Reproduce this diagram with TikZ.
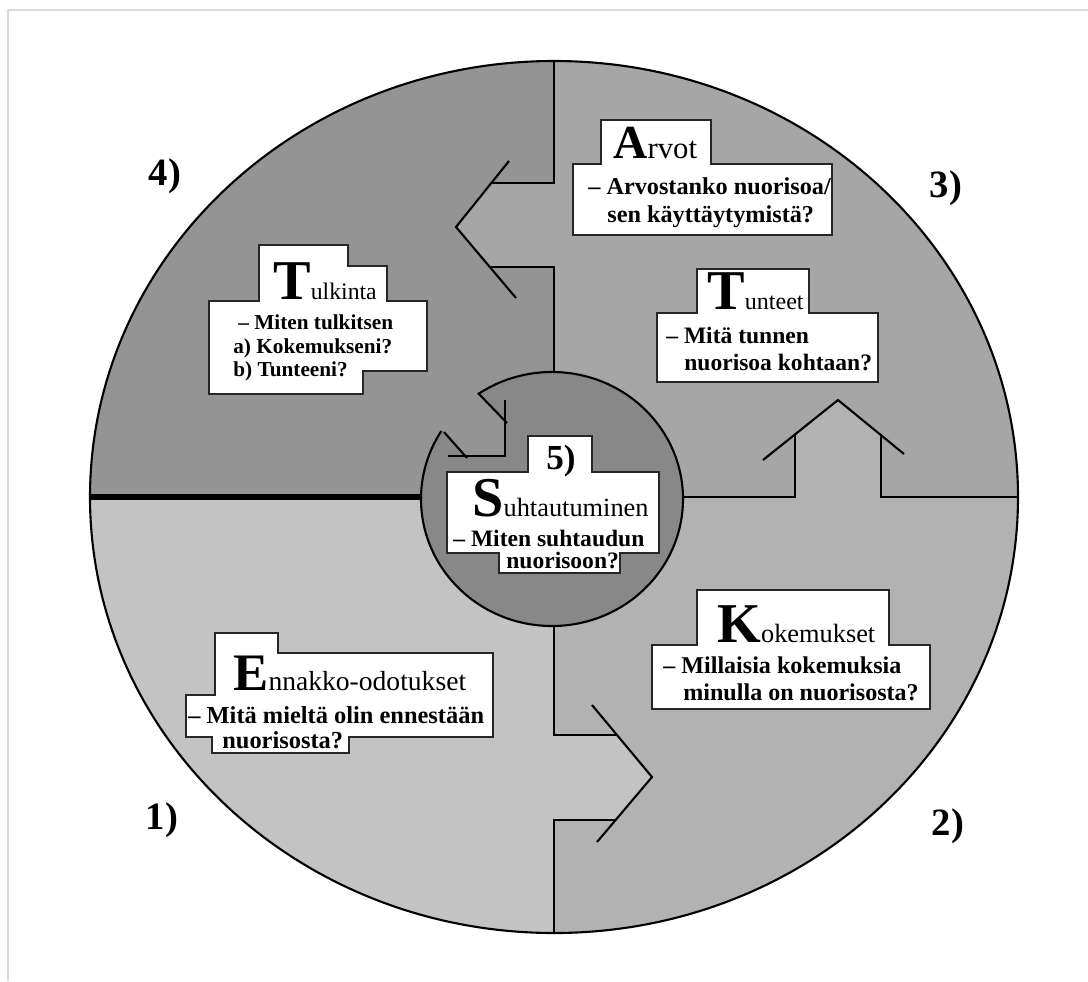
\documentclass[tikz,border=0pt]{standalone}
\usepackage{fontspec}
\setmainfont{Liberation Serif}
\definecolor{qfourgray}{HTML}{949494}
\definecolor{qthreegray}{HTML}{A6A6A6}
\definecolor{qtwogray}{HTML}{B2B2B2}
\definecolor{qonegray}{HTML}{C3C3C3}
\definecolor{hubgray}{HTML}{888888}
\newcommand{\initial}[2][32]{{\fontsize{#1}{#1}\selectfont\bfseries #2}}
\tikzset{
  seam/.style={line width=1.2pt},
  box/.style={draw=black!85, line width=0.8pt, fill=white},
  body/.style={anchor=base west, inner sep=0pt, font=\fontsize{13.4}{16}\selectfont\bfseries},
  ttl/.style={anchor=base west, inner sep=0pt, font=\fontsize{15}{18}\selectfont},
  num/.style={font=\fontsize{22}{22}\selectfont\bfseries}
}
\begin{document}
\begin{tikzpicture}[x=0.02cm, y=-0.02cm]
    \useasboundingbox (0,0) rectangle (1088,981);
    \draw[gray!30, line width=0.9pt] (8,981) -- (8,10) -- (1088,10);
    % quarters
    \begin{scope}
    \clip (554,497) ellipse [x radius=464, y radius=436];
    \fill[qfourgray] (80,40) rectangle (554,497);
    \fill[qthreegray] (554,40) rectangle (1030,497);
    \fill[qonegray] (80,497) rectangle (554,950);
    \fill[qtwogray] (554,497) rectangle (1030,950);
    \fill[qthreegray] (554,183) -- (491,183) -- (456,227) -- (490,267) -- (554,267) -- cycle;
    \fill[qtwogray] (795,497) -- (795,434) -- (838,400) -- (881,435) -- (881,497) -- cycle;
    \fill[qonegray] (554,735) -- (617,735) -- (652,777) -- (616,820) -- (554,820) -- cycle;
    \end{scope}
    \draw[seam] (554,497) ellipse [x radius=464, y radius=436];
    \draw[seam] (554,61) -- (554,183) -- (491,183);
    \draw[seam] (509,161) -- (456,227) -- (516,298);
    \draw[seam] (490,267) -- (554,267) -- (554,375);
    \draw[seam] (680,497) -- (795,497) -- (795,434);
    \draw[seam] (763,460) -- (838,400) -- (904,454);
    \draw[seam] (881,434) -- (881,497) -- (1018,497);
    \draw[seam] (554,622) -- (554,735) -- (617,735);
    \draw[seam] (592,705) -- (652,777) -- (597,842);
    \draw[seam] (616,820) -- (554,820) -- (554,933);
    \draw[line width=3.4pt] (90,497) -- (424,497);
    % hub
    \filldraw[fill=hubgray, seam] (552,499) ellipse [x radius=131, y radius=127];
    \fill[qfourgray] (478,393) -- (505,421) -- (505,456) -- (465,456) -- (444,432) -- (420,420) -- (440,380) -- cycle;
    \draw[seam] (478,393) -- (507,423);
    \draw[seam] (505,400) -- (505,456) -- (448,456);
    \draw[seam] (444,432) -- (467,458);
    % boxes
    \filldraw[box] (601,120) -- (711,120) -- (711,164) -- (832,164) -- (832,235) -- (573,235) -- (573,164) -- (601,164) -- cycle;
    \filldraw[box] (697,269) -- (809,269) -- (809,313) -- (878,313) -- (878,382) -- (657,382) -- (657,313) -- (697,313) -- cycle;
    \filldraw[box] (259,245) -- (348,245) -- (348,266) -- (387,266) -- (387,301) -- (427,301) -- (427,371) -- (363,371) -- (363,394) -- (209,394) -- (209,301) -- (259,301) -- cycle;
    \filldraw[box] (697,590) -- (889,590) -- (889,645) -- (930,645) -- (930,709) -- (652,709) -- (652,645) -- (697,645) -- cycle;
    \filldraw[box] (215,633) -- (278,633) -- (278,653) -- (493,653) -- (493,737) -- (349,737) -- (349,753) -- (212,753) -- (212,737) -- (186,737) -- (186,695) -- (215,695) -- cycle;
    \filldraw[box] (528,436) -- (592,436) -- (592,472) -- (659,472) -- (659,553) -- (620,553) -- (620,573) -- (499,573) -- (499,553) -- (447,553) -- (447,472) -- (528,472) -- cycle;
    % texts
    \node[ttl, font=\fontsize{17.5}{18}\selectfont] (arvot) at (613,158) {\initial[27]{A}rvot};
    \node[body, font=\fontsize{13.8}{16}\selectfont\bfseries] (arvot1) at (588,194) {– Arvostanko nuorisoa/};
    \node[body, font=\fontsize{13.8}{16}\selectfont\bfseries] (arvot2) at (607,222) {sen käyttäytymistä?};
    \node[ttl, font=\fontsize{13.7}{18}\selectfont] (tunteet) at (707,309) {\initial{T}unteet};
    \node[body] (tunteet1) at (666,343) {– Mitä tunnen};
    \node[body] (tunteet2) at (684,370) {nuorisoa kohtaan?};
    \node[ttl, font=\fontsize{13.5}{18}\selectfont] (tulkinta) at (273,299) {\initial{T}ulkinta};
    \node[body, font=\fontsize{12.1}{14}\selectfont\bfseries] (tulkinta1) at (238,329) {– Miten tulkitsen};
    \node[body, font=\fontsize{12.1}{14}\selectfont\bfseries] (tulkinta2) at (233,353) {a) Kokemukseni?};
    \node[body, font=\fontsize{12.1}{14}\selectfont\bfseries] (tulkinta3) at (233,376) {b) Tunteeni?};
    \node[ttl] (kokemukset) at (717,642) {\initial{K}okemukset};
    \node[body, font=\fontsize{13.7}{16}\selectfont\bfseries] (kokemukset1) at (663,673) {– Millaisia kokemuksia};
    \node[body, font=\fontsize{13.7}{16}\selectfont\bfseries] (kokemukset2) at (683,700) {minulla on nuorisosta?};
    \node[ttl, font=\fontsize{15.7}{18}\selectfont] (ennakko) at (233,690) {\initial[30]{E}nnakko-odotukset};
    \node[body, font=\fontsize{13.9}{16}\selectfont\bfseries] (ennakko1) at (188,723) {– Mitä mieltä olin ennestään};
    \node[body, font=\fontsize{13.9}{16}\selectfont\bfseries] (ennakko2) at (222,748) {nuorisosta?};
    \node[num, font=\fontsize{20}{20}\selectfont\bfseries, anchor=base] (n5) at (561,469) {5)};
    \node[ttl] (suhtautuminen) at (472,516) {\initial{S}uhtautuminen};
    \node[body] (suhtautuminen1) at (453,546) {– Miten suhtaudun};
    \node[body] (suhtautuminen2) at (506,568) {nuorisoon?};
    % numbers
    \node[num] (n4) at (165,176) {4)};
    \node[num] (n3) at (946,188) {3)};
    \node[num] (n1) at (162,820) {1)};
    \node[num] (n2) at (948,826) {2)};
\end{tikzpicture}
\end{document}
